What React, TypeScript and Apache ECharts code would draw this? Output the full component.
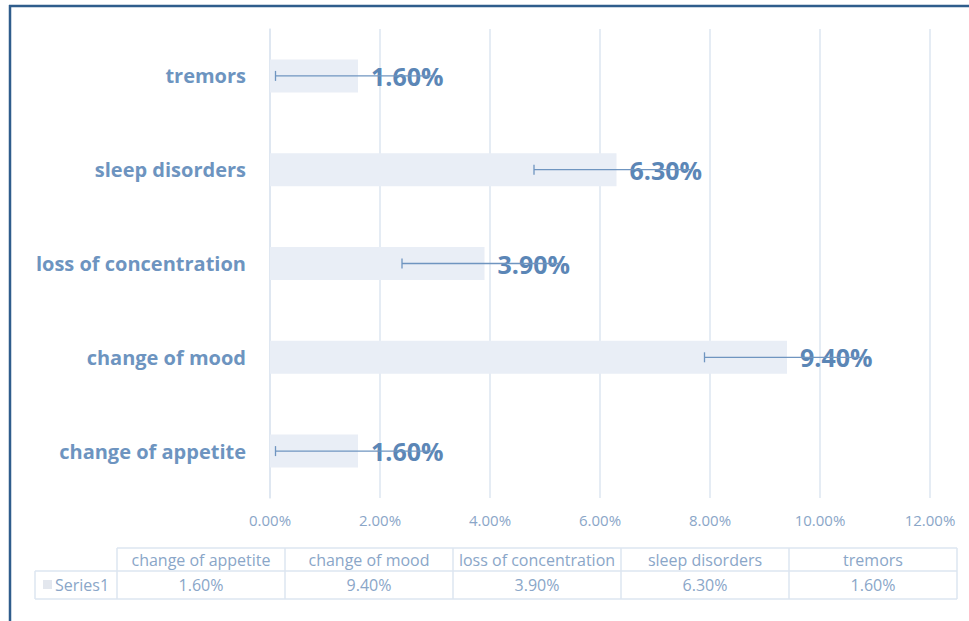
import React, { useEffect, useRef } from "react";
import * as echarts from "echarts";

const categories = ["change of appetite", "change of mood", "loss of concentration", "sleep disorders", "tremors"];
const values = [1.6, 9.4, 3.9, 6.3, 1.6];
const errorAmount = [1.5, 1.5, 1.5, 1.5, 1.5];
const xTicks = [0, 2, 4, 6, 8, 10, 12];
const seriesName = "Series1";

const FONT = "'Open Sans', Lato, sans-serif";
const LABEL_BLUE = "#5b86b6";
const CAT_BLUE = "#6d94c0";
const TICK_BLUE = "#8aa6c8";
const GRID = "#dde6f1";
const BAR = "#e9eef6";

export default function App() {
  const ref = useRef<HTMLDivElement>(null);
  useEffect(() => {
    document.body.style.margin = "0";
    const chart = echarts.init(ref.current!, null, { renderer: "svg" });

    const tableLeft = 117;
    const colW = 168;
    const rowLeft = 35;
    const y0 = 548, y1 = 571, y2 = 599;
    const tableRight = tableLeft + colW * categories.length;
    const tableEls: any[] = [];
    const line = (x1: number, yA: number, x2: number, yB: number) => ({
      type: "line",
      shape: { x1, y1: yA, x2, y2: yB },
      style: { stroke: GRID, lineWidth: 1.5 },
      silent: true,
    });
    tableEls.push(line(tableLeft, y0, tableRight, y0));
    tableEls.push(line(rowLeft, y1, tableRight, y1));
    tableEls.push(line(rowLeft, y2, tableRight, y2));
    tableEls.push(line(rowLeft, y1, rowLeft, y2));
    for (let i = 0; i <= categories.length; i++) {
      const x = tableLeft + colW * i;
      tableEls.push(line(x, y0, x, y2));
    }
    const TFONT = `16px ${FONT}`;
    categories.forEach((c, i) => {
      const cx = tableLeft + colW * i + colW / 2;
      tableEls.push({
        type: "text",
        x: cx,
        y: (y0 + y1) / 2,
        style: { text: c, fill: TICK_BLUE, font: TFONT, align: "center", verticalAlign: "middle" },
      });
      tableEls.push({
        type: "text",
        x: cx,
        y: (y1 + y2) / 2,
        style: { text: values[i].toFixed(2) + "%", fill: TICK_BLUE, font: TFONT, align: "center", verticalAlign: "middle" },
      });
    });
    tableEls.push({ type: "rect", shape: { x: 43, y: 580, width: 9, height: 9 }, style: { fill: "#e3e7ee" } });
    tableEls.push({
      type: "text",
      x: 55,
      y: (y1 + y2) / 2,
      style: { text: seriesName, fill: TICK_BLUE, font: TFONT, align: "left", verticalAlign: "middle" },
    });

    const frame = [
      { type: "line", shape: { x1: 9, y1: 6, x2: 969, y2: 6 }, style: { stroke: "#2f5d8c", lineWidth: 2.5 } },
      { type: "line", shape: { x1: 10, y1: 5, x2: 10, y2: 621 }, style: { stroke: "#2f5d8c", lineWidth: 2.5 } },
    ];

    chart.setOption({
      animation: false,
      backgroundColor: "#ffffff",
      grid: { left: 270, right: 39, top: 29, bottom: 123, containLabel: false },
      xAxis: {
        type: "value",
        min: 0,
        max: 12,
        interval: 2,
        axisLine: { show: false },
        axisTick: { show: false },
        splitLine: { show: true, lineStyle: { color: GRID, width: 1.5 } },
        axisLabel: {
          color: TICK_BLUE,
          fontFamily: FONT,
          fontSize: 15,
          margin: 14,
          formatter: (v: number) => (xTicks.includes(v) ? v.toFixed(2) + "%" : ""),
        },
      },
      yAxis: {
        type: "category",
        data: categories,
        axisLine: { show: true, lineStyle: { color: GRID, width: 1.5 } },
        axisTick: { show: false },
        axisLabel: { color: CAT_BLUE, fontFamily: FONT, fontSize: 20, fontWeight: "bold", margin: 24 },
      },
      series: [
        {
          type: "bar",
          name: seriesName,
          data: values,
          barWidth: 33,
          itemStyle: { color: BAR },
          label: {
            show: true,
            position: "right",
            distance: 13,
            color: LABEL_BLUE,
            fontFamily: FONT,
            fontSize: 25,
            fontWeight: "bold",
            formatter: (p: any) => Number(p.value).toFixed(2) + "%",
          },
          z: 2,
        },
        {
          type: "custom",
          name: "error",
          data: values.map((v, i) => [i, v, errorAmount[i]]),
          z: 3,
          renderItem: (params: any, api: any) => {
            const idx = api.value(0);
            const v = api.value(1);
            const e = api.value(2);
            const lo = api.coord([v - e, idx]);
            const hi = api.coord([v + e, idx]);
            const style = { stroke: "#6f95c0", lineWidth: 1.3 };
            return {
              type: "group",
              children: [
                { type: "line", shape: { x1: lo[0], y1: lo[1], x2: hi[0] - 6, y2: hi[1] }, style },
                { type: "line", shape: { x1: lo[0], y1: lo[1] - 5, x2: lo[0], y2: lo[1] + 5 }, style },
              ],
            };
          },
          encode: { x: 1, y: 0 },
        },
      ],
      graphic: [...frame, ...tableEls],
    });
    return () => chart.dispose();
  }, []);
  return <div ref={ref} style={{ width: 969, height: 621 }} />;
}
